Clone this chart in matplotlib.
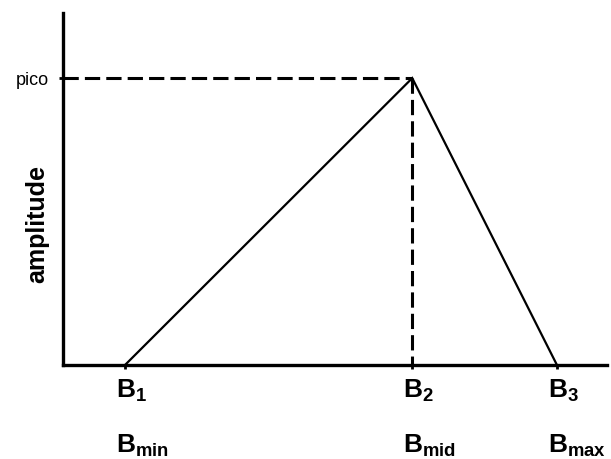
import matplotlib
matplotlib.use("Agg")
import matplotlib.pyplot as plt
import matplotlib.transforms as mtransforms

# band positions (x) and amplitudes (y) of the triangle
band_x = [1.14, 6.42, 9.08]
band_y = [0.0, 0.815, 0.0]
tick_labels = [r"$\mathbf{B_{1}}$", r"$\mathbf{B_{2}}$", r"$\mathbf{B_{3}}$"]
name_labels = [r"$\mathbf{B_{min}}$", r"$\mathbf{B_{mid}}$", r"$\mathbf{B_{max}}$"]
peak_label = "pico"
y_label = "amplitude"

plt.rcParams["font.family"] = ["Liberation Sans", "DejaVu Sans"]
plt.rcParams["mathtext.fontset"] = "custom"
plt.rcParams["mathtext.rm"] = "Liberation Sans"
plt.rcParams["mathtext.bf"] = "Liberation Sans:bold"

fig = plt.figure(figsize=(6.11, 4.59), dpi=100)
ax = fig.add_axes([63 / 611, 1 - 365 / 459, 544 / 611, 352 / 459])

# triangle
ax.plot(band_x, band_y, color="black", lw=1.6, solid_joinstyle="miter")

# dashed guides to the peak
ax.plot([0, band_x[1]], [band_y[1], band_y[1]], color="black", lw=2.2,
        linestyle=(0, (5, 2)), dash_capstyle="butt")
ax.plot([band_x[1], band_x[1]], [band_y[1], 0], color="black", lw=2.2,
        linestyle=(0, (5, 2)), dash_capstyle="butt")

ax.set_xlim(0, 10)
ax.set_ylim(0, 1)

for s in ["top", "right"]:
    ax.spines[s].set_visible(False)
for s in ["left", "bottom"]:
    ax.spines[s].set_linewidth(2.4)

ax.set_xticks(band_x)
ax.set_xticklabels([])
ax.tick_params(axis="x", length=3, width=2, direction="out")
ax.set_yticks([band_y[1]])
ax.set_yticklabels([peak_label], fontsize=13)
ax.tick_params(axis="y", length=3, width=2, direction="out", pad=7)

fig.text(37 / 611, 1 - 224 / 459, y_label, rotation=90, ha="center",
         va="center", fontsize=18, fontweight="bold")

# band labels under the axis
shift = mtransforms.ScaledTranslation(-9 / 100, 0, fig.dpi_scale_trans)
trans = mtransforms.blended_transform_factory(ax.transData, fig.transFigure) + shift
for x, lab, name in zip(band_x, tick_labels, name_labels):
    ax.text(x, 1 - 398 / 459, lab, transform=trans, ha="left",
            va="baseline", fontsize=19)
    ax.text(x, 1 - 453 / 459, name, transform=trans, ha="left",
            va="baseline", fontsize=19)

fig.savefig("out.png", dpi=100)
